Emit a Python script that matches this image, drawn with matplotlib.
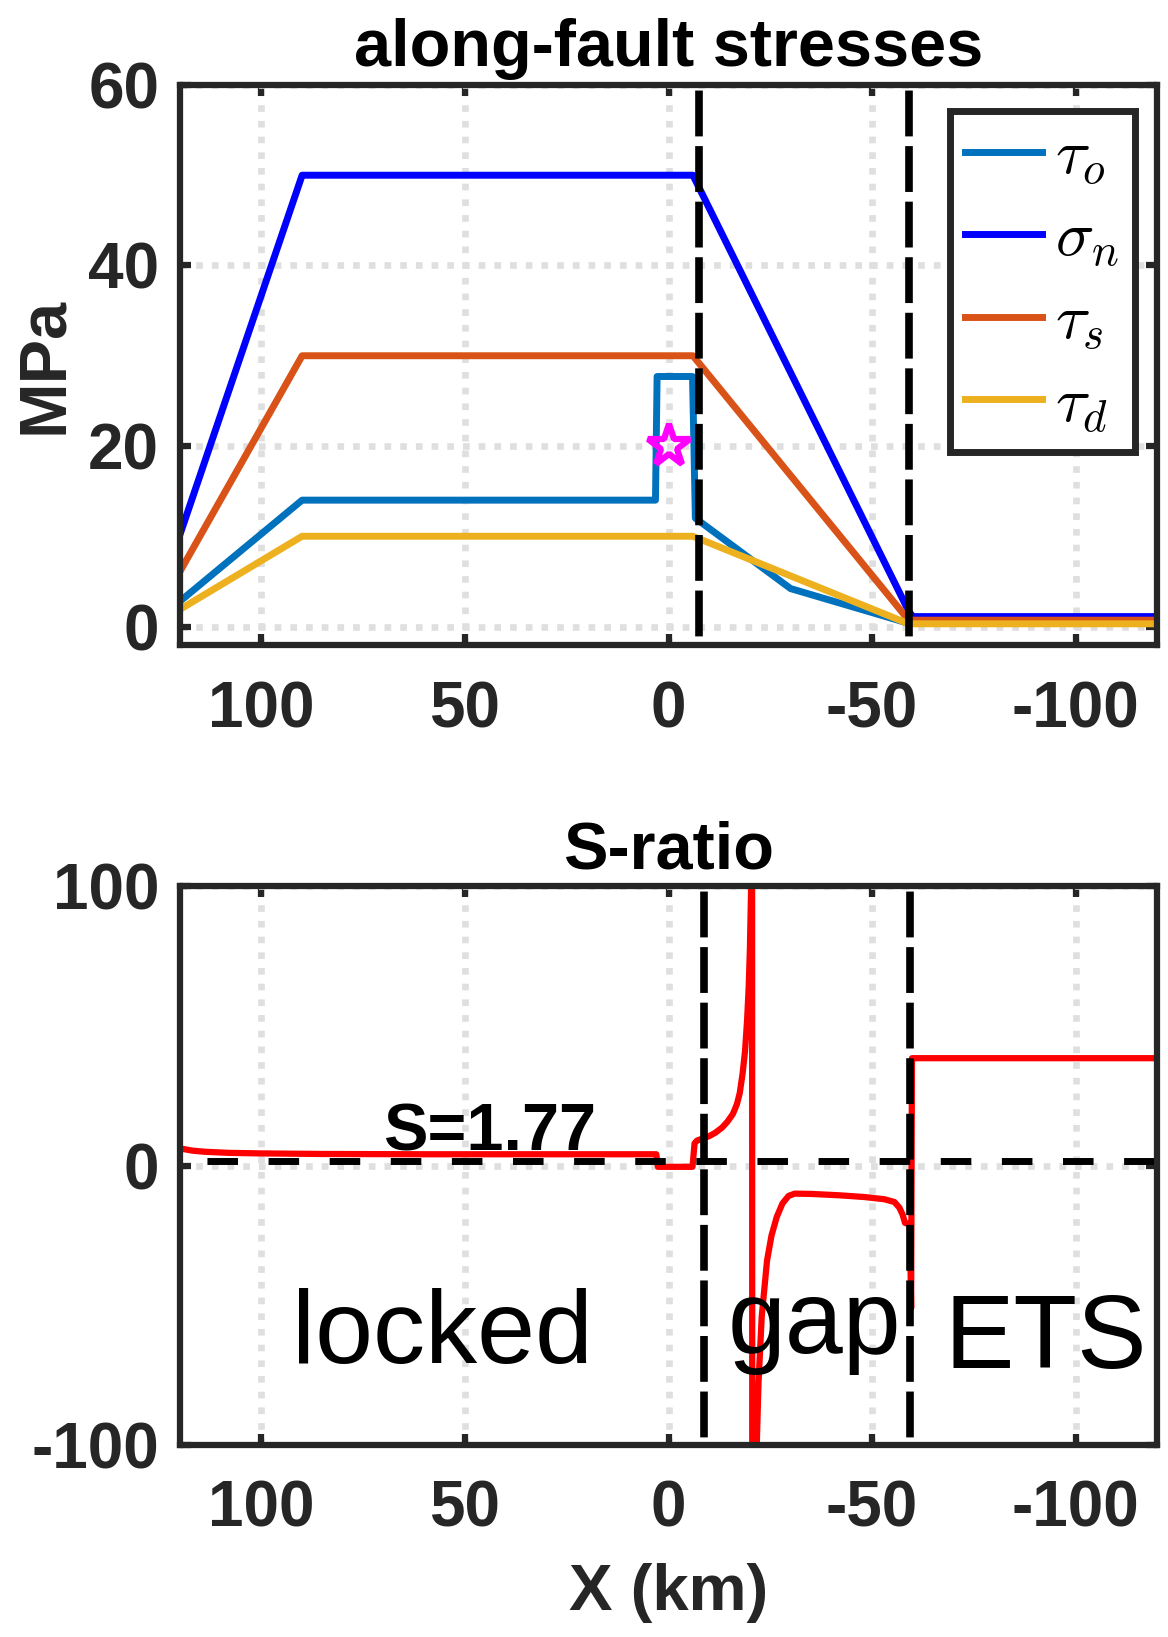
import matplotlib
matplotlib.use("Agg")
import matplotlib.pyplot as plt

plt.rcParams['font.family'] = ['Liberation Sans', 'DejaVu Sans']
plt.rcParams['font.weight'] = 'bold'
plt.rcParams['mathtext.fontset'] = 'cm'
plt.rcParams['lines.scale_dashes'] = False
plt.rcParams['axes.unicode_minus'] = False

# along-fault stresses (MPa) against X (km)
x_tau0 = [120, 90, 3.2, 2.8, -5.9, -6.6, -30, -59, -120]
tau0 = [2.8, 14, 14, 27.7, 27.7, 12, 4.2, 0.35, 0.35]
x_sn = [120, 90, -6, -59, -60, -120]
sn = [10.2, 50, 50, 1.7, 1.1, 1.1]
x_ts = [120, 90, -6, -59, -120]
ts = [6.1, 30, 30, 0.7, 0.7]
x_td = [120, 90, -6, -59, -120]
td = [1.9, 10, 10, 0.3, 0.3]
hypo_x, hypo_y = 0, 20

# S-ratio
x_S = [120, 117, 114, 108, 100, 85, 60, 30, 3.0, 2.6, -5.9, -6.4, -7.0, -8.5,
       -10.0, -11.5, -13.2, -14.5, -15.8, -16.8, -17.5, -18.2, -18.8, -19.3,
       -19.7, -20.0, -20.3, -20.5, -20.6, -21.3, -21.7, -22.1, -22.9, -24.2,
       -25.3, -26.6, -28.0, -29.5, -31.0, -35.0, -42.0,
       -48.0, -53.0, -55.5, -56.7, -57.5, -58.1, -59.3, -59.6, -59.8, -60.2,
       -90, -120]
S = [6.2, 5.4, 5.0, 4.6, 4.4, 4.2, 4.1, 4.1, 4.1, -0.4, -0.4, 8.0, 9.0, 9.8,
     10.6, 11.8, 13.7, 15.8, 18.5, 22.0, 26.0, 33.0, 41.0, 52.0,
     64.0, 78.0, 100.0, 300.0, -300.0, -300.0, -99.0, -78.0, -54.0, -34.0,
     -25.0, -18.3, -13.5, -10.8, -10.0, -10.1, -10.6,
     -11.2, -12.0, -13.0, -15.0, -17.5, -20.5, -21.0, -51.0, 38.5, 38.5,
     38.5, 38.5]
S_mean = 1.77

edges_top = [-7.5, -59.0]
edges_bot = [-8.7, -59.2]

xticks = [100, 50, 0, -50, -100]
yticks_top = [0, 20, 40, 60]
yticks_bot = [-100, 0, 100]

dark = '#262626'


def style(ax):
    for s in ax.spines.values():
        s.set_linewidth(4.5)
        s.set_color(dark)
    ax.tick_params(direction='in', length=8, width=4.5, color=dark,
                   labelsize=46, labelcolor=dark, top=True, right=True)
    ax.tick_params(axis='x', pad=25)
    ax.tick_params(axis='y', pad=15)
    ax.grid(True, color='#dfdfdf', lw=4.8, linestyle=(0, (4.8, 6.5)))
    ax.set_axisbelow(True)
    ax.set_xlim(120, -120)
    ax.set_xticks(xticks)


fig = plt.figure(figsize=(11.68, 16.37), dpi=100)
ax1 = fig.add_axes([0.1541, 0.6057, 0.8365, 0.3424])
ax2 = fig.add_axes([0.1541, 0.1173, 0.8365, 0.3412])

# top: stresses
style(ax1)
ax1.set_ylim(-2.1, 60)
ax1.set_yticks(yticks_top)
l1, = ax1.plot(x_tau0, tau0, color='#0072BD', lw=5)
l2, = ax1.plot(x_sn, sn, color='#0000FF', lw=5)
l3, = ax1.plot(x_ts, ts, color='#D95319', lw=5)
l4, = ax1.plot(x_td, td, color='#EDB120', lw=5)
ax1.plot(hypo_x, hypo_y, marker='*', ms=32, mfc='none', mec='#FF00FF', mew=4.5)
for xe in edges_top:
    ax1.plot([xe, xe], [60, -2.1], color='k', lw=5.5,
             linestyle=(36, (33, 7)))
ax1.set_title('along-fault stresses', fontsize=48, fontweight='bold', pad=14)
ax1.set_ylabel('MPa', fontsize=48, fontweight='bold', color=dark, labelpad=9)
leg = ax1.legend([l1, l2, l3, l4],
                 [r'$\tau_o$', r'$\sigma_n$', r'$\tau_s$', r'$\tau_d$'],
                 loc='upper right', bbox_to_anchor=(0.9775, 0.9536),
                 borderaxespad=0, fontsize=46, handlelength=1.2,
                 handletextpad=0.2, borderpad=0.25, labelspacing=0.34,
                 fancybox=False, framealpha=1)
leg.get_frame().set_edgecolor(dark)
leg.get_frame().set_linewidth(5)

# bottom: S-ratio
style(ax2)
ax2.set_ylim(-100, 100)
ax2.set_yticks(yticks_bot)
ax2.plot(x_S, S, color='#FF0000', lw=4.5)
ax2.plot([120, -120], [S_mean, S_mean], color='k', lw=5,
         linestyle=(24.6, (22, 22)))
for xe in edges_bot:
    ax2.plot([xe, xe], [100, -100], color='k', lw=5.5,
             linestyle=(36, (33, 7)))
ax2.text(44, 5.3, 'S=%.2f' % S_mean, fontsize=48, fontweight='bold',
         ha='center', va='baseline')
ax2.text(92.6, -70.5, 'locked', fontsize=75, fontweight='normal', va='baseline')
ax2.text(-14.5, -67, 'gap', fontsize=75, fontweight='normal', va='baseline')
ax2.text(-67.9, -72.5, 'ETS', fontsize=75, fontweight='normal', va='baseline')
ax2.set_title('S-ratio', fontsize=48, fontweight='bold', pad=13)
ax2.set_xlabel('X (km)', fontsize=47, fontweight='bold', color=dark, labelpad=17)

fig.savefig('out.png', dpi=100)
